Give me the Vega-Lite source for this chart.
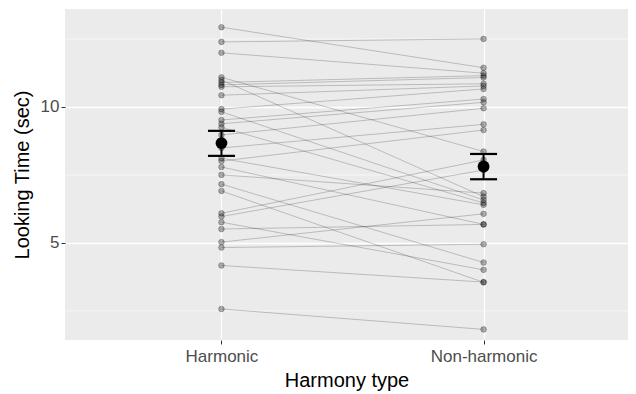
{
  "$schema": "https://vega.github.io/schema/vega-lite/v6.json",
  "width": 563,
  "height": 331,
  "autosize": {"type": "none"},
  "padding": {"left": 65, "top": 9, "right": 8, "bottom": 54},
  "background": "white",
  "config": {
    "view": {"fill": "#EBEBEB", "stroke": null},
    "axis": {
      "domain": false,
      "tickColor": "#333333",
      "tickSize": 4,
      "tickWidth": 1,
      "labelColor": "#4D4D4D",
      "labelFont": "Liberation Sans",
      "labelFontSize": 17,
      "titleFont": "Liberation Sans",
      "titleFontSize": 20,
      "titleFontWeight": "normal",
      "titleColor": "#000000",
      "gridColor": "#FFFFFF",
      "gridWidth": 1.3
    }
  },
  "datasets": {
    "obs": [
      {"id": 1, "type": "Harmonic", "t": 12.93}, {"id": 1, "type": "Non-harmonic", "t": 11.44},
      {"id": 2, "type": "Harmonic", "t": 12.39}, {"id": 2, "type": "Non-harmonic", "t": 12.50},
      {"id": 3, "type": "Harmonic", "t": 11.99}, {"id": 3, "type": "Non-harmonic", "t": 11.24},
      {"id": 4, "type": "Harmonic", "t": 11.09}, {"id": 4, "type": "Non-harmonic", "t": 8.36},
      {"id": 5, "type": "Harmonic", "t": 10.99}, {"id": 5, "type": "Non-harmonic", "t": 6.70},
      {"id": 6, "type": "Harmonic", "t": 10.90}, {"id": 6, "type": "Non-harmonic", "t": 11.15},
      {"id": 7, "type": "Harmonic", "t": 10.81}, {"id": 7, "type": "Non-harmonic", "t": 11.08},
      {"id": 8, "type": "Harmonic", "t": 10.74}, {"id": 8, "type": "Non-harmonic", "t": 10.85},
      {"id": 9, "type": "Harmonic", "t": 10.43}, {"id": 9, "type": "Non-harmonic", "t": 10.77},
      {"id": 10, "type": "Harmonic", "t": 9.92}, {"id": 10, "type": "Non-harmonic", "t": 10.66},
      {"id": 11, "type": "Harmonic", "t": 9.82}, {"id": 11, "type": "Non-harmonic", "t": 6.58},
      {"id": 12, "type": "Harmonic", "t": 9.52}, {"id": 12, "type": "Non-harmonic", "t": 10.29},
      {"id": 13, "type": "Harmonic", "t": 9.38}, {"id": 13, "type": "Non-harmonic", "t": 10.17},
      {"id": 14, "type": "Harmonic", "t": 9.25}, {"id": 14, "type": "Non-harmonic", "t": 6.47},
      {"id": 15, "type": "Harmonic", "t": 8.97}, {"id": 15, "type": "Non-harmonic", "t": 9.95},
      {"id": 16, "type": "Harmonic", "t": 8.49}, {"id": 16, "type": "Non-harmonic", "t": 9.36},
      {"id": 17, "type": "Harmonic", "t": 8.11}, {"id": 17, "type": "Non-harmonic", "t": 6.40},
      {"id": 18, "type": "Harmonic", "t": 8.01}, {"id": 18, "type": "Non-harmonic", "t": 9.15},
      {"id": 19, "type": "Harmonic", "t": 7.79}, {"id": 19, "type": "Non-harmonic", "t": 5.68},
      {"id": 20, "type": "Harmonic", "t": 7.50}, {"id": 20, "type": "Non-harmonic", "t": 6.83},
      {"id": 21, "type": "Harmonic", "t": 7.16}, {"id": 21, "type": "Non-harmonic", "t": 4.28},
      {"id": 22, "type": "Harmonic", "t": 6.91}, {"id": 22, "type": "Non-harmonic", "t": 3.55},
      {"id": 23, "type": "Harmonic", "t": 6.09}, {"id": 23, "type": "Non-harmonic", "t": 8.05},
      {"id": 24, "type": "Harmonic", "t": 5.97}, {"id": 24, "type": "Non-harmonic", "t": 7.68},
      {"id": 25, "type": "Harmonic", "t": 5.76}, {"id": 25, "type": "Non-harmonic", "t": 4.01},
      {"id": 26, "type": "Harmonic", "t": 5.51}, {"id": 26, "type": "Non-harmonic", "t": 5.68},
      {"id": 27, "type": "Harmonic", "t": 5.03}, {"id": 27, "type": "Non-harmonic", "t": 6.07},
      {"id": 28, "type": "Harmonic", "t": 4.83}, {"id": 28, "type": "Non-harmonic", "t": 4.95},
      {"id": 29, "type": "Harmonic", "t": 4.17}, {"id": 29, "type": "Non-harmonic", "t": 3.56},
      {"id": 30, "type": "Harmonic", "t": 2.57}, {"id": 30, "type": "Non-harmonic", "t": 1.82}
    ],
    "summary": [
      {"type": "Harmonic", "mean": 8.67, "lo": 8.20, "hi": 9.12},
      {"type": "Non-harmonic", "mean": 7.81, "lo": 7.34, "hi": 8.27}
    ],
    "minor": [{"g": 2.5}, {"g": 7.5}, {"g": 12.5}]
  },
  "layer": [
    {
      "data": {"name": "minor"},
      "mark": {"type": "rule", "color": "#FFFFFF", "strokeWidth": 0.6},
      "encoding": {
        "y": {"field": "g", "type": "quantitative", "scale": {"domain": [1.43, 13.6], "nice": false, "zero": false}, "axis": {"values": [5, 10], "title": "Looking Time (sec)", "grid": true, "titlePadding": 8}}
      }
    },
    {
      "data": {"name": "obs"},
      "mark": {"type": "line", "color": "#000000", "strokeWidth": 0.7, "opacity": 0.3},
      "encoding": {
        "x": {"field": "type", "type": "nominal", "scale": {"type": "point", "domain": ["Harmonic", "Non-harmonic"], "padding": 0.574, "align": 0.52}, "axis": {"title": "Harmony type", "labelAngle": 0, "grid": true, "labelPadding": 4, "titlePadding": 6}},
        "y": {"field": "t", "type": "quantitative"},
        "detail": {"field": "id", "type": "nominal"}
      }
    },
    {
      "data": {"name": "obs"},
      "mark": {"type": "point", "shape": "circle", "filled": true, "fill": "#000000", "fillOpacity": 0.3, "stroke": "#000000", "strokeOpacity": 0.32, "strokeWidth": 0.8, "size": 32},
      "encoding": {
        "x": {"field": "type", "type": "nominal"},
        "y": {"field": "t", "type": "quantitative"}
      }
    },
    {
      "data": {"name": "summary"},
      "mark": {"type": "rule", "color": "#000000", "strokeWidth": 2},
      "encoding": {
        "x": {"field": "type", "type": "nominal"},
        "y": {"field": "lo", "type": "quantitative"},
        "y2": {"field": "hi"}
      }
    },
    {
      "data": {"name": "summary"},
      "mark": {"type": "tick", "color": "#000000", "size": 27, "thickness": 2.2, "opacity": 1},
      "encoding": {
        "x": {"field": "type", "type": "nominal"},
        "y": {"field": "lo", "type": "quantitative"}
      }
    },
    {
      "data": {"name": "summary"},
      "mark": {"type": "tick", "color": "#000000", "size": 27, "thickness": 2.2, "opacity": 1},
      "encoding": {
        "x": {"field": "type", "type": "nominal"},
        "y": {"field": "hi", "type": "quantitative"}
      }
    },
    {
      "data": {"name": "summary"},
      "mark": {"type": "point", "shape": "circle", "filled": true, "color": "#000000", "opacity": 1, "size": 140},
      "encoding": {
        "x": {"field": "type", "type": "nominal"},
        "y": {"field": "mean", "type": "quantitative"}
      }
    }
  ]
}
